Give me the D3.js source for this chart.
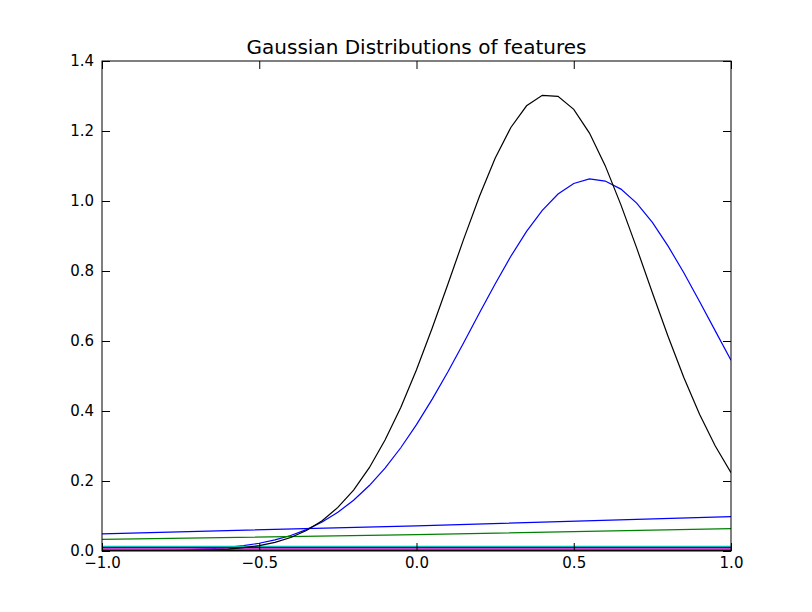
<!DOCTYPE html>
<html><head><meta charset="utf-8">
<script src="https://d3js.org/d3.v7.min.js"></script>
<style>body{margin:0;background:#fff}text{font-family:"DejaVu Sans",sans-serif}</style>
</head><body><div id="chart"></div>
<script>
// sample positions along x
var xs = d3.range(41).map(function(i){ return +(-1 + i*0.05).toFixed(2); });
var blackCurve = [0.0000,0.0001,0.0001,0.0003,0.0005,0.001,0.0018,0.0033,0.0056,0.0095,0.0155,0.0248,0.0386,0.0586,0.0865,0.1245,0.174,0.238,0.317,0.410,0.518,0.637,0.763,0.891,1.013,1.122,1.210,1.272,1.302,1.299,1.262,1.194,1.101,0.989,0.866,0.738,0.613,0.496,0.391,0.300,0.224];
var blueCurve = [0.0002,0.0004,0.0007,0.0011,0.0018,0.0029,0.0045,0.0068,0.0103,0.0152,0.0221,0.0316,0.0443,0.0611,0.0829,0.1107,0.145,0.187,0.237,0.295,0.361,0.434,0.512,0.595,0.680,0.763,0.842,0.913,0.973,1.020,1.050,1.063,1.057,1.034,0.994,0.939,0.871,0.795,0.713,0.629,0.545];
var flatX = [-1, 0, 1];
var blueFlat = [0.049, 0.072, 0.098];
var greenFlat = [0.033, 0.047, 0.064];
var cyanFlat = [0.013, 0.013, 0.013];
var blueLow = [0.010, 0.010, 0.010];
var magentaFlat = [0.006, 0.006, 0.006];
var redFlat = [0.003, 0.003, 0.003];
var greenLow = [0.002, 0.002, 0.002];
var blackLow = [0.001, 0.001, 0.001];
var xTicks = [-1.0, -0.5, 0.0, 0.5, 1.0];
var yTicks = [0, 0.2, 0.4, 0.6, 0.8, 1.0, 1.2, 1.4];

var svgWidth = 812, svgHeight = 612;
var margin = {top: 61, right: 81, bottom: 61, left: 102};
var width = 731 - margin.left, height = 551 - margin.top;

var svg = d3.select("#chart").append("svg")
  .attr("width", svgWidth).attr("height", svgHeight);
var g = svg.append("g").attr("transform", `translate(${margin.left},${margin.top})`);

var x = d3.scaleLinear().domain([-1, 1]).range([0, width]);
var y = d3.scaleLinear().domain([0, 1.4]).range([height, 0]);

var line = d3.line().x(d => x(d[0])).y(d => y(d[1]));
var clip = svg.append("clipPath").attr("id", "clip").append("rect").attr("width", width).attr("height", height);

var series = [
  [xs, blueCurve, "#0000ff"],
  [flatX, greenFlat, "#008000"],
  [flatX, redFlat, "#ff0000"],
  [flatX, cyanFlat, "#00bfbf"],
  [flatX, magentaFlat, "#bf00bf"],
  [flatX, blueFlat, "#0000ff"],
  [flatX, greenLow, "#008000"],
  [flatX, blueLow, "#0000ff"],
  [flatX, blackLow, "#000000"],
  [xs, blackCurve, "#000000"]
];
var plot = g.append("g").attr("clip-path", "url(#clip)");
series.forEach(function(s){
  plot.append("path").datum(s[0].map((v, i) => [v, s[1][i]]))
    .attr("d", line).attr("fill", "none").attr("stroke", s[2]).attr("stroke-width", 1.2);
});

// axes, ticks inside like matplotlib classic
var fmt = d3.format(".1f");
g.append("g").attr("transform", `translate(0,${height})`)
  .call(d3.axisBottom(x).tickValues(xTicks).tickFormat(d => fmt(d).replace("-", "\u2212")).tickSizeInner(-8).tickSizeOuter(0).tickPadding(6));
g.append("g").call(d3.axisTop(x).tickValues(xTicks).tickFormat("").tickSizeInner(-8).tickSizeOuter(0));
g.append("g").call(d3.axisLeft(y).tickValues(yTicks).tickFormat(fmt).tickSizeInner(-8).tickSizeOuter(0).tickPadding(8));
g.append("g").attr("transform", `translate(${width},0)`)
  .call(d3.axisRight(y).tickValues(yTicks).tickFormat("").tickSizeInner(-8).tickSizeOuter(0));
g.selectAll(".domain").remove();
g.selectAll(".tick text").attr("font-size", 15).attr("fill", "#000").style("font-family", "DejaVu Sans");
g.selectAll(".tick line").attr("stroke", "#000");
g.append("rect").attr("width", width).attr("height", height).attr("fill", "none").attr("stroke", "#000").attr("stroke-width", 1);

g.append("text").attr("x", width / 2).attr("y", -7).attr("text-anchor", "middle")
  .attr("font-size", 20).text("Gaussian Distributions of features");
</script></body></html>
